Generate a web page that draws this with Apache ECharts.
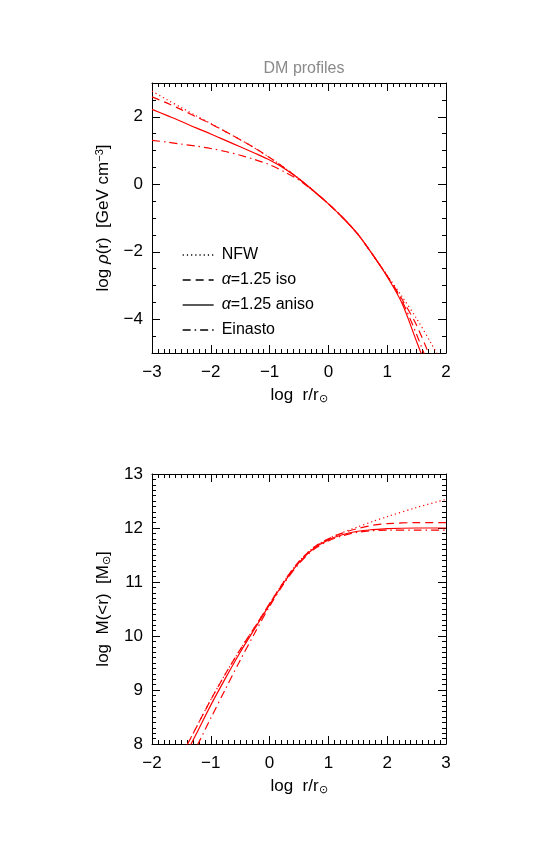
<!DOCTYPE html>
<html>
<head>
<meta charset="utf-8">
<script src="https://cdn.jsdelivr.net/npm/echarts@6/dist/echarts.min.js"></script>
<style>html,body{margin:0;padding:0;background:#fff}#c{width:545px;height:852px}</style>
</head>
<body>
<div id="c"></div>
<script>
// ---- Data ----
const seriesNames = ['NFW', 'α=1.25 iso', 'α=1.25 aniso', 'Einasto'];

// Top panel: log rho(r) vs log r/r_sun
const xRho = [-3,-2.75,-2.5,-2.25,-2,-1.75,-1.5,-1.25,-1,-0.75,-0.5,-0.25,0,0.25,0.5,0.75,1,1.25,1.5,1.75,2];
const rhoNFW    = [2.76,2.51,2.27,2.03,1.80,1.56,1.32,1.07,0.79,0.49,0.16,-0.20,-0.58,-1.00,-1.48,-2.08,-2.70,-3.32,-3.98,-4.72,-5.50];
const rhoIso    = [2.59,2.41,2.21,2.00,1.79,1.56,1.32,1.07,0.79,0.49,0.16,-0.20,-0.58,-1.00,-1.48,-2.08,-2.72,-3.40,-4.18,-5.20,-6.20];
const rhoAniso  = [2.22,2.04,1.86,1.67,1.49,1.30,1.11,0.92,0.72,0.47,0.16,-0.20,-0.58,-1.00,-1.48,-2.08,-2.74,-3.52,-4.66,-5.80,-7.00];
const rhoEin    = [1.30,1.25,1.19,1.13,1.06,0.97,0.86,0.73,0.58,0.37,0.12,-0.21,-0.58,-1.00,-1.48,-2.08,-2.72,-3.45,-4.45,-5.60,-6.80];

// Bottom panel: log M(<r) vs log r/r_sun
const xMass = [-1.5,-1.25,-1,-0.75,-0.5,-0.25,0,0.25,0.5,0.75,1,1.25,1.5,1.75,2,2.5,3];
const mNFW   = [7.78,8.30,8.82,9.30,9.75,10.17,10.60,11.02,11.38,11.64,11.80,11.92,12.02,12.12,12.21,12.38,12.53];
const mIso   = [7.78,8.30,8.82,9.30,9.75,10.17,10.60,11.02,11.38,11.64,11.80,11.91,11.99,12.05,12.08,12.10,12.10];
const mAniso = [7.65,8.18,8.72,9.22,9.70,10.14,10.58,11.00,11.36,11.62,11.78,11.88,11.94,11.97,11.99,12.00,12.00];
const mEin   = [7.40,7.93,8.48,9.02,9.55,10.06,10.55,10.98,11.34,11.60,11.76,11.86,11.92,11.95,11.96,11.96,11.96];

const rhoTickLabels = [-4,-2,0,2];

// ---- Styles ----
const FONT = 'Liberation Sans';
const FS = 17;
const RED = '#ff0000';
const dashTypes = [[1.2,3], [8,5], 'solid', [8,4,1.5,4]];
const fmt = v => (v < 0 ? '\u2212' + Math.abs(v) : String(v));

function pairs(xs, ys){ return xs.map((x,i)=>[x, ys[i]]); }

function xAx(grid, min, max, pos, labels, name){
  return {
    type:'value', gridIndex:grid, min, max, interval:1, position:pos,
    axisLine:{show:true, onZero:false, lineStyle:{color:'#000', width:1}},
    axisTick:{show:true, inside:true, length:8, lineStyle:{color:'#000'}},
    minorTick:{show:true, splitNumber:10, length:4, lineStyle:{color:'#000'}},
    splitLine:{show:false},
    axisLabel:{show:labels, formatter:fmt, color:'#000', fontFamily:FONT, fontSize:FS, margin:11, showMinLabel:true, showMaxLabel:true},
    name: labels ? name : '', nameLocation:'middle', nameGap:33,
    nameTextStyle:{color:'#000', fontFamily:FONT, fontSize:FS, rich:{s:{fontSize:11, fontFamily:FONT, color:'#000', verticalAlign:'bottom', padding:[7,0,0,0]}}}
  };
}

const xName = 'log  r/r{s|⊙}';

const option = {
  animation:false,
  backgroundColor:'#fff',
  title:{text:'DM profiles', left:299, top:56, textAlign:'center',
    textStyle:{color:'#8a8a8a', fontFamily:FONT, fontSize:16, fontWeight:'normal'}},
  grid:[
    {left:152, top:83, width:294, height:270},
    {left:152, top:474, width:294, height:270}
  ],
  legend:{
    data:seriesNames, orient:'vertical', left:177, top:242,
    itemWidth:31, itemHeight:14, itemGap:9,
    itemStyle:{opacity:0},
    lineStyle:{color:'#000', width:1.3},
    textStyle:{color:'#000', fontFamily:FONT, fontSize:16, padding:[0,0,0,3],
      rich:{i:{fontStyle:'italic', fontFamily:FONT, fontSize:16, color:'#000'}}},
    formatter: n => n.replace('α','{i|α}'),
    selectedMode:false
  },
  xAxis:[
    xAx(0,-3,2,'bottom',true,xName),
    xAx(0,-3,2,'top',false,''),
    xAx(1,-2,3,'bottom',true,xName),
    xAx(1,-2,3,'top',false,'')
  ],
  yAxis:[
    {type:'value', gridIndex:0, min:-5, max:3, interval:0.5, position:'left',
     axisLine:{show:true, onZero:false, lineStyle:{color:'#000'}},
     axisTick:{show:true, inside:true, length:4, lineStyle:{color:'#000'}},
     splitLine:{show:false},
     axisLabel:{color:'#000', fontFamily:FONT, fontSize:FS, margin:9,
       formatter:v => (rhoTickLabels.indexOf(v) >= 0 ? fmt(v) : '')},
     name:'log {i|ρ}(r)  [GeV cm{u|−3}]', nameLocation:'middle', nameGap:40, nameRotate:90,
     nameTextStyle:{color:'#000', fontFamily:FONT, fontSize:FS,
       rich:{i:{fontStyle:'italic', fontFamily:FONT, fontSize:FS, color:'#000'},
             u:{fontSize:11, fontFamily:FONT, color:'#000', verticalAlign:'top', padding:[0,0,7,0]}}}},
    {type:'value', gridIndex:0, min:-5, max:3, interval:0.5, position:'right',
     axisLine:{show:true, onZero:false, lineStyle:{color:'#000'}},
     axisTick:{show:true, inside:true, length:4, lineStyle:{color:'#000'}},
     splitLine:{show:false}, axisLabel:{show:false}},
    {type:'value', gridIndex:0, min:-5, max:3, position:'left',
     axisLine:{show:false, onZero:false},
     axisTick:{show:true, inside:true, length:8, customValues:rhoTickLabels, lineStyle:{color:'#000'}},
     splitLine:{show:false}, axisLabel:{show:false}},
    {type:'value', gridIndex:0, min:-5, max:3, position:'right',
     axisLine:{show:false, onZero:false},
     axisTick:{show:true, inside:true, length:8, customValues:rhoTickLabels, lineStyle:{color:'#000'}},
     splitLine:{show:false}, axisLabel:{show:false}},
    {type:'value', gridIndex:1, min:8, max:13, interval:1, position:'left',
     axisLine:{show:true, onZero:false, lineStyle:{color:'#000'}},
     axisTick:{show:true, inside:true, length:8, lineStyle:{color:'#000'}},
     minorTick:{show:true, splitNumber:10, length:4, lineStyle:{color:'#000'}},
     splitLine:{show:false},
     axisLabel:{color:'#000', fontFamily:FONT, fontSize:FS, margin:9, formatter:fmt, showMinLabel:true, showMaxLabel:true},
     name:'log  M(<r)  [M{s|⊙}]', nameLocation:'middle', nameGap:40, nameRotate:90,
     nameTextStyle:{color:'#000', fontFamily:FONT, fontSize:FS,
       rich:{s:{fontSize:11, fontFamily:FONT, color:'#000', verticalAlign:'bottom', padding:[7,0,0,0]}}}},
    {type:'value', gridIndex:1, min:8, max:13, interval:1, position:'right',
     axisLine:{show:true, onZero:false, lineStyle:{color:'#000'}},
     axisTick:{show:true, inside:true, length:8, lineStyle:{color:'#000'}},
     minorTick:{show:true, splitNumber:10, length:4, lineStyle:{color:'#000'}},
     splitLine:{show:false}, axisLabel:{show:false}}
  ],
  series:[]
};

const rhoSets = [rhoNFW, rhoIso, rhoAniso, rhoEin];
const mSets = [mNFW, mIso, mAniso, mEin];
seriesNames.forEach((n,i)=>{
  option.series.push({name:n, type:'line', xAxisIndex:0, yAxisIndex:0, symbol:'none', showSymbol:false, smooth:0.3,
    data:pairs(xRho, rhoSets[i]), lineStyle:{color:RED, width:1.2, type:dashTypes[i]}, itemStyle:{color:RED}, clip:true});
});
seriesNames.forEach((n,i)=>{
  option.series.push({name:n, type:'line', xAxisIndex:2, yAxisIndex:4, symbol:'none', showSymbol:false, smooth:0.3,
    data:pairs(xMass, mSets[i]), lineStyle:{color:RED, width:1.2, type:dashTypes[i]}, itemStyle:{color:RED}, clip:true});
});

const chart = echarts.init(document.getElementById('c'), null, {renderer:'canvas'});
chart.setOption(option);
</script>
</body>
</html>
